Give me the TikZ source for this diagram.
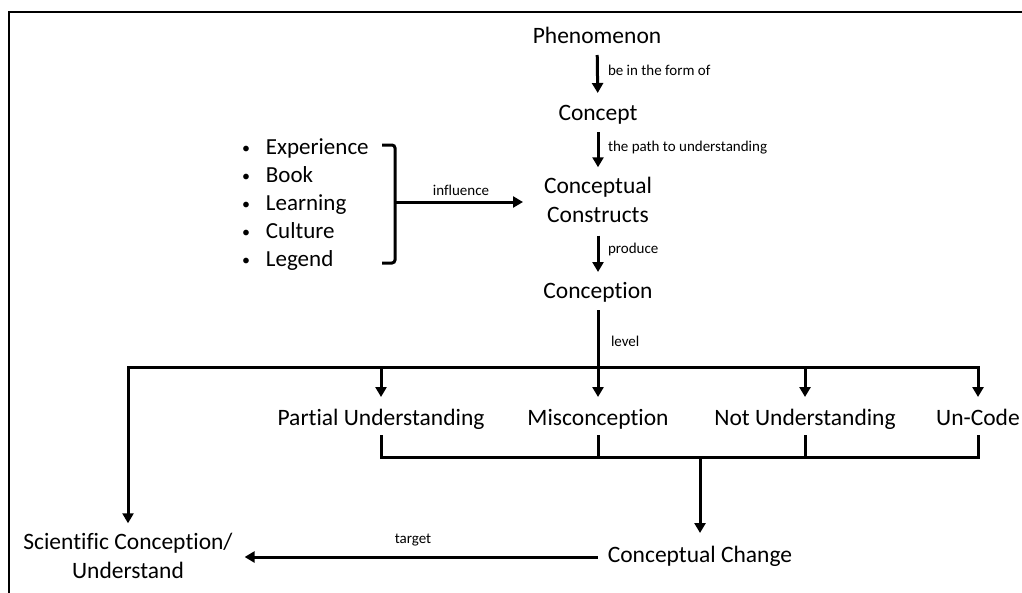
\documentclass[tikz,border=0pt]{standalone}
\usepackage{fontspec}
\setmainfont{Carlito}[Ligatures={NoCommon,NoContextual}]
\usetikzlibrary{arrows.meta}
\newcommand{\mybul}{\raisebox{1.5pt}{\fontsize{16}{16}\selectfont •}\hspace{16pt}}
\begin{document}
\begin{tikzpicture}[x=1pt,y=-1pt,
  big/.style={font=\fontsize{23.5}{29}\selectfont, inner sep=0pt, outer sep=0pt},
  one/.style={text height=15pt, text depth=5pt},
  small/.style={font=\fontsize{15}{17}\selectfont, inner sep=0pt, outer sep=0pt, text height=10pt, text depth=3pt, anchor=west},
  ln/.style={line width=3pt},
  arr/.style={line width=3pt, -{Triangle[width=11pt,length=10pt]}},
]
\useasboundingbox (0,0) rectangle (1022,592);
\draw[line width=2pt] (9,600) -- (9,12) -- (1030,12);

% main nodes
\node[big,one] (phen) at (597,38) {Phenomenon};
\node[big,one] (concept) at (598,115) {Concept};
\node[big,align=center] (cc) at (598,200) {Conceptual\\Constructs};
\node[big,one] (conc) at (598,293) {Conception};
\node[big,one] (partial) at (381,420) {Partial Understanding};
\node[big,one] (mis) at (598,420) {Misconception};
\node[big,one] (notu) at (805,420) {Not Understanding};
\node[big,one] (uncode) at (978,420) {Un-Code};
\node[big,one] (change) at (700,557) {Conceptual Change};
\node[big,align=center] (sci) at (128,556) {Scientific Conception/\\Understand};
\node[big,font=\fontsize{23}{28}\selectfont,align=left,anchor=west] (list) at (242,205)
  {\mybul Experience\\\mybul Book\\\mybul Learning\\\mybul Culture\\\mybul Legend};

% labels
\node[small] (l1) at (608,72) {be in the form of};
\node[small] (l2) at (608,148) {the path to understanding};
\node[small] (l3) at (608,250) {produce};
\node[small] (l4) at (611,343) {level};
\node[small,anchor=center] (l5) at (461,192) {influence};
\node[small,anchor=center] (l6) at (413,540) {target};

% vertical chain
\draw[arr, shorten <=7pt, shorten >=12pt] (phen) -- (concept);
\draw[arr, shorten <=7pt, shorten >=10pt] (concept) -- (cc);
\draw[arr, shorten <=13pt, shorten >=11pt] (cc) -- (conc);

% level distribution
\coordinate (lv) at (598,367);
\draw[ln, shorten <=7pt] (conc) -- (lv);
\draw[ln, line cap=rect] (sci |- lv) -- (uncode |- lv);
\draw[arr, shorten >=13pt] (partial |- lv) -- (partial);
\draw[arr, shorten >=13pt] (mis |- lv) -- (mis);
\draw[arr, shorten >=13pt] (notu |- lv) -- (notu);
\draw[arr, shorten >=13pt] (uncode |- lv) -- (uncode);
\draw[arr, shorten >=10pt] (sci |- lv) -- (sci);

% bottom bracket
\coordinate (bl) at (700,457);
\draw[ln, shorten <=5pt, shorten >=5pt] (partial) -- (partial |- bl) -- (uncode |- bl) -- (uncode);
\draw[ln, shorten <=5pt] (mis) -- (mis |- bl);
\draw[ln, shorten <=5pt] (notu) -- (notu |- bl);
\draw[arr, shorten >=14pt] (change |- bl) -- (change);

% target
\coordinate (tgt) at ([xshift=12pt]sci.east);
\draw[arr, shorten <=10pt] (change) -- (change -| tgt);

% influence bracket
\draw[ln, rounded corners=3pt] (382,145) -- (395,145) -- (395,263) -- (382,263);
\coordinate (brm) at (395,202);
\draw[arr, shorten >=21pt] (brm) -- (brm -| cc.west);
\end{tikzpicture}
\end{document}
